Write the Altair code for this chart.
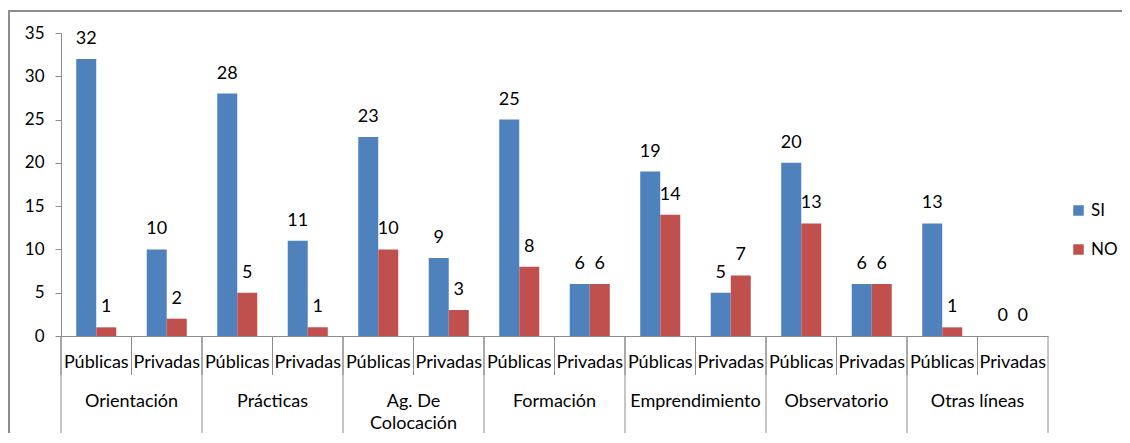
import altair as alt
import pandas as pd

groups = ["Orientación", "Prácticas", "Ag. De Colocación", "Formación",
          "Emprendimiento", "Observatorio", "Otras líneas"]
group_display = ["Orientación", "Prácticas", "Ag. De\nColocación", "Formación",
                 "Emprendimiento", "Observatorio", "Otras líneas"]
subs = ["Públicas", "Privadas"]
series = ["SI", "NO"]
si_publicas = [32, 28, 23, 25, 19, 20, 13]
si_privadas = [10, 11, 9, 6, 5, 6, 0]
no_publicas = [1, 5, 10, 8, 14, 13, 1]
no_privadas = [2, 1, 3, 6, 7, 6, 0]
colors = ["#4F81BD", "#C0504D"]
y_ticks = [0, 5, 10, 15, 20, 25, 30, 35]

FONT = "Lato"
GRAY = "#8C8C8C"
W, H = 987, 303

rows = []
keys = []
for gi, g in enumerate(groups):
    vals = {"Públicas": (si_publicas[gi], no_publicas[gi]),
            "Privadas": (si_privadas[gi], no_privadas[gi])}
    for s in subs:
        key = f"{g}|{s}"
        keys.append(key)
        rows.append(dict(key=key, group=g, sub=s, serie="SI", value=vals[s][0]))
        rows.append(dict(key=key, group=g, sub=s, serie="NO", value=vals[s][1]))
df = pd.DataFrame(rows)

sub_df = pd.DataFrame([dict(key=k, sub=k.split("|")[1]) for k in keys])
grp_df = pd.DataFrame([dict(key=f"{g}|Privadas", start=f"{g}|Públicas", label=group_display[i])
                       for i, g in enumerate(groups)])
end_df = pd.DataFrame([dict(key=keys[-1])])
border_df = pd.DataFrame([dict(a=1)])

xscale = alt.Scale(domain=keys, paddingInner=0, paddingOuter=0)
xaxis = alt.Axis(labels=False, ticks=False, title=None, domainColor=GRAY, domainWidth=1)


def X(field="key", band=0.5):
    return alt.X(f"{field}:N", scale=xscale, axis=xaxis, sort=keys, bandPosition=band)


yenc = alt.Y("value:Q", scale=alt.Scale(domain=[0, 35], nice=False),
             axis=alt.Axis(values=y_ticks, grid=False, title=None, tickSize=6,
                           labelPadding=11, domainColor=GRAY, tickColor=GRAY,
                           labelFont=FONT, labelFontSize=17, labelColor="#000000"))

color = alt.Color("serie:N", scale=alt.Scale(domain=series, range=colors),
                  sort=series,
                  legend=alt.Legend(title=None, orient="none", legendX=1009, legendY=169,
                                    symbolType="square", symbolSize=110, symbolStrokeWidth=0,
                                    labelFont=FONT, labelFontSize=17, labelColor="#000000",
                                    rowPadding=21, labelOffset=4, padding=0))
xoff = alt.XOffset("serie:N", sort=series,
                   scale=alt.Scale(domain=series, paddingInner=0, paddingOuter=0.76))

bars = alt.Chart(df).mark_bar(size=20).encode(x=X(), xOffset=xoff, y=yenc, color=color)

labels = alt.Chart(df).mark_text(font=FONT, fontSize=18, color="#000000",
                                 baseline="middle", dy=-20).encode(
    x=X(), xOffset=xoff, y=yenc, text="value:Q")

sub_div = alt.Chart(sub_df).mark_rule(color=GRAY, strokeWidth=1).encode(
    x=X(band=0), y=alt.value(H), y2=alt.value(H + 39))

grp_div = alt.Chart(grp_df).mark_rule(color=GRAY, strokeWidth=1).encode(
    x=X("start", band=0), y=alt.value(H), y2=alt.value(H + 110))

end_div = alt.Chart(end_df).mark_rule(color=GRAY, strokeWidth=1).encode(
    x=X(band=1), y=alt.value(H), y2=alt.value(H + 110))

sub_lab = alt.Chart(sub_df).mark_text(font=FONT, fontSize=18, color="#000000",
                                      baseline="middle").encode(
    x=X(), y=alt.value(H + 27), text="sub:N")

grp_lab = alt.Chart(grp_df).mark_text(font=FONT, fontSize=18, color="#000000",
                                      baseline="middle", lineBreak="\n", lineHeight=22).encode(
    x=X(band=0), y=alt.value(H + 66), text="label:N")

border = alt.Chart(border_df).mark_rect(fillOpacity=0, stroke=GRAY, strokeWidth=2).encode(
    x=alt.value(-52), x2=alt.value(W + 300), y=alt.value(-22), y2=alt.value(H + 300))

chart = alt.layer(border, bars, labels, sub_div, grp_div, end_div, sub_lab, grp_lab).properties(
    width=W, height=H,
    padding={"left": 53, "top": 25, "right": 74, "bottom": 97},
    autosize=alt.AutoSizeParams(type="none"),
).configure(background="#FFFFFF").configure_view(stroke=None)

chart.save("out.html", embed_options={"renderer": "svg", "actions": False})
